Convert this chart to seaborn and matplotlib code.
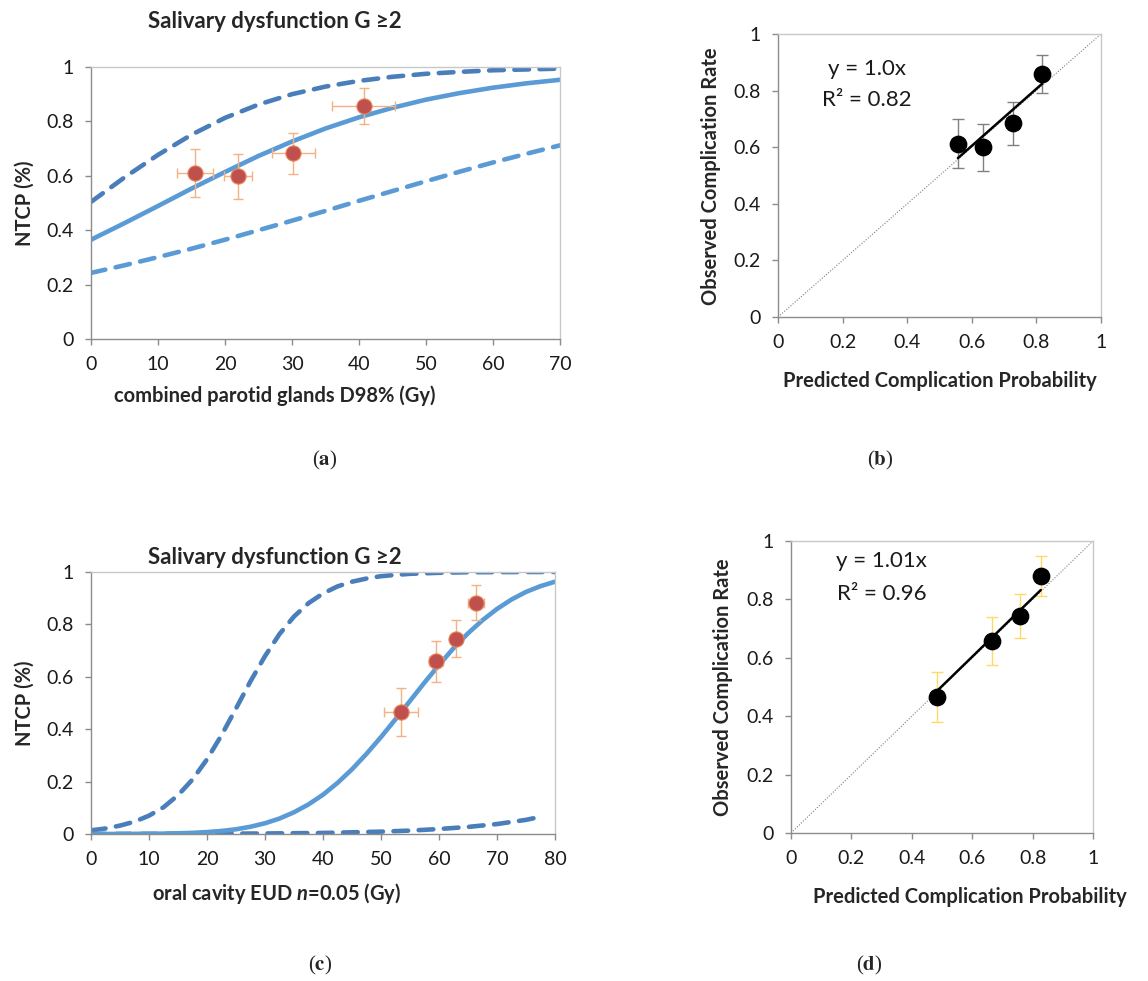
import numpy as np
import pandas as pd
import matplotlib
matplotlib.use("Agg")
import matplotlib.pyplot as plt
import seaborn as sns
from matplotlib.ticker import FuncFormatter

# ---- panel (a): NTCP vs combined parotid glands D98% ----
dose_a = [0, 5, 10, 15, 20, 25, 30, 35, 40, 45, 50, 55, 60, 65, 70]
ntcp_a = [0.365, 0.426, 0.489, 0.553, 0.614, 0.673, 0.726, 0.774, 0.815, 0.850, 0.880, 0.904, 0.924, 0.940, 0.953]
upper_a = [0.504, 0.594, 0.677, 0.751, 0.813, 0.862, 0.900, 0.928, 0.949, 0.964, 0.975, 0.982, 0.988, 0.991, 0.994]
lower_a = [0.243, 0.271, 0.301, 0.332, 0.365, 0.400, 0.435, 0.471, 0.508, 0.544, 0.580, 0.615, 0.649, 0.681, 0.712]
obs_dose_a = [15.5, 21.9, 30.2, 40.7]
obs_rate_a = [0.610, 0.598, 0.683, 0.855]
obs_xerr_a = [2.7, 2.1, 3.2, 4.7]
obs_yerr_a = [0.087, 0.082, 0.075, 0.066]

# ---- panel (b): calibration for (a) ----
pred_b = [0.557, 0.635, 0.727, 0.818]
obs_b = [0.613, 0.600, 0.684, 0.860]
err_b = [0.087, 0.083, 0.076, 0.067]
slope_b = 1.008

# ---- panel (c): NTCP vs oral cavity EUD ----
dose_c = [0, 2.5, 5, 7.5, 10, 12.5, 15, 17.5, 20, 22.5, 25, 27.5, 30, 32.5, 35, 37.5, 40,
          42.5, 45, 47.5, 50, 52.5, 55, 57.5, 60, 62.5, 65, 67.5, 70, 72.5, 75, 77.5, 80]
ntcp_c = [0.000, 0.0001, 0.0002, 0.0005, 0.0008, 0.0015, 0.0026, 0.0044, 0.0073, 0.0116, 0.018,
          0.0277, 0.041, 0.059, 0.083, 0.113, 0.150, 0.195, 0.247, 0.306, 0.370, 0.438, 0.508,
          0.578, 0.645, 0.709, 0.766, 0.816, 0.859, 0.895, 0.924, 0.946, 0.963]
dose_up_c = [0, 2.5, 5, 7.5, 10, 12.5, 15, 17.5, 20, 22.5, 25, 27.5, 30, 32.5, 35, 37.5, 40,
             42.5, 45, 47.5, 50, 52.5, 55, 57.5, 60, 65, 70, 75, 80]
upper_c = [0.014, 0.021, 0.032, 0.047, 0.070, 0.102, 0.148, 0.208, 0.285, 0.377, 0.479, 0.583, 0.679,
           0.763, 0.830, 0.881, 0.918, 0.945, 0.963, 0.975, 0.984, 0.989, 0.993, 0.995, 0.997,
           0.999, 0.9995, 1.0, 1.0]
dose_lo_c = [0, 10, 20, 30, 40, 50, 55, 60, 65, 70, 75, 78]
lower_c = [0.0002, 0.0005, 0.001, 0.002, 0.004, 0.009, 0.013, 0.019, 0.027, 0.038, 0.054, 0.068]
obs_dose_c = [53.4, 59.5, 63.0, 66.4]
obs_rate_c = [0.466, 0.659, 0.745, 0.883]
obs_xerr_c = [2.9, 1.15, 0.9, 1.4]
obs_yerr_c = [0.091, 0.077, 0.070, 0.067]

# ---- panel (d): calibration for (c) ----
pred_d = [0.482, 0.666, 0.757, 0.827]
obs_d = [0.466, 0.658, 0.743, 0.880]
err_d = [0.087, 0.083, 0.076, 0.067]
slope_d = 1.006

TITLE = "Salivary dysfunction G \u22652"

sns.set_theme(style="white")
plt.rcParams["font.family"] = ["Lato", "DejaVu Sans"]
plt.rcParams["mathtext.fontset"] = "custom"
plt.rcParams["mathtext.it"] = "Lato:italic:bold"
plt.rcParams["mathtext.rm"] = "Lato"

W, H = 1148, 981
fig = plt.figure(figsize=(W / 100, H / 100), dpi=100)

LBL = 14.5
TICK = 14


def px_axes(l, t, r, b):
    return fig.add_axes([l / W, 1 - b / H, (r - l) / W, (b - t) / H])


def px_text(x, y, s, **kw):
    return fig.text(x / W, 1 - y / H, s, **kw)


def style_axes(ax):
    for side in ["left", "bottom"]:
        ax.spines[side].set_color("#8c8c8c")
        ax.spines[side].set_linewidth(1.0)
    for side in ["top", "right"]:
        ax.spines[side].set_visible(True)
        ax.spines[side].set_color("#c8c8c8")
        ax.spines[side].set_linewidth(1.0)
    ax.tick_params(axis="both", which="both", direction="out", length=4.5, width=1,
                   color="#8c8c8c", labelsize=TICK, labelcolor="#1a1a1a", pad=8,
                   left=True, bottom=True)
    fmt = FuncFormatter(lambda v, p: f"{v:g}")
    ax.xaxis.set_major_formatter(fmt)
    ax.yaxis.set_major_formatter(fmt)
    ax.grid(False)
    ax.set_xlabel("")
    ax.set_ylabel("")


DASH = (0, (3.2, 2.3))
BLUE = "#5b9bd5"
DBLUE = "#4a7ebb"
RED = "#c0504d"
ORANGE = "#f4b183"


def draw_ntcp(ax, curves, obs_x, obs_y, xerr, yerr):
    for x, y, col, ls in curves:
        df = pd.DataFrame({"x": x, "y": y})
        sns.lineplot(data=df, x="x", y="y", ax=ax, color=col, linewidth=3.3,
                     linestyle=ls, dash_capstyle="round", solid_capstyle="round",
                     estimator=None, sort=False, legend=False)
    ax.errorbar(obs_x, obs_y, xerr=xerr, yerr=yerr, fmt="none", ecolor=ORANGE,
                elinewidth=1.0, capsize=3.5, capthick=1.0, zorder=4)
    pts = pd.DataFrame({"x": obs_x, "y": obs_y})
    sns.scatterplot(data=pts, x="x", y="y", ax=ax, color=RED, s=120,
                    edgecolor="#e9875a", linewidth=0.8, zorder=5, legend=False)


def draw_calib(ax, px, py, err, slope, ecol, txt1, txt2, tx, ty1, ty2):
    diag = pd.DataFrame({"x": [0, 1], "y": [0, 1]})
    sns.lineplot(data=diag, x="x", y="y", ax=ax, color="#7f7f7f", linewidth=0.8,
                 linestyle=(0, (1, 1.5)), estimator=None, legend=False)
    ax.errorbar(px, py, yerr=err, fmt="none", ecolor=ecol, elinewidth=1.0,
                capsize=4.5, capthick=1.0, zorder=3)
    fx = [min(px), max(px)]
    fit = pd.DataFrame({"x": fx, "y": [slope * v for v in fx]})
    sns.lineplot(data=fit, x="x", y="y", ax=ax, color="black", linewidth=1.8,
                 estimator=None, legend=False, zorder=4)
    pts = pd.DataFrame({"x": px, "y": py})
    sns.scatterplot(data=pts, x="x", y="y", ax=ax, color="black", s=140,
                    edgecolor="black", zorder=5, legend=False)
    ax.text(tx, ty1, txt1, fontsize=16, ha="center", va="center", color="#1a1a1a")
    ax.text(tx, ty2, txt2, fontsize=16, ha="center", va="center", color="#1a1a1a")
    ax.set_xlim(0, 1)
    ax.set_ylim(0, 1)
    ax.set_xticks([0, 0.2, 0.4, 0.6, 0.8, 1])
    ax.set_yticks([0, 0.2, 0.4, 0.6, 0.8, 1])


def bold_label(x, y, s, rot=0):
    px_text(x, y, s, fontsize=LBL, fontweight="bold", ha="center", va="center", rotation=rot)


# (a)
ax_a = px_axes(91, 67, 560, 339)
draw_ntcp(ax_a,
          [(dose_a, upper_a, DBLUE, DASH), (dose_a, lower_a, BLUE, DASH), (dose_a, ntcp_a, BLUE, "-")],
          obs_dose_a, obs_rate_a, obs_xerr_a, obs_yerr_a)
ax_a.set_xlim(0, 70)
ax_a.set_ylim(0, 1)
ax_a.set_xticks(range(0, 71, 10))
ax_a.set_yticks([0, 0.2, 0.4, 0.6, 0.8, 1])
style_axes(ax_a)
bold_label(25, 203, "NTCP (%)", 90)
bold_label(275, 396, "combined parotid glands D98% (Gy)")

# (b)
ax_b = px_axes(778, 34, 1101, 317)
draw_calib(ax_b, pred_b, obs_b, err_b, slope_b, "#808080",
           "y = 1.0x", "R\u00b2 = 0.82", 0.276, 0.876, 0.766)
style_axes(ax_b)
bold_label(711, 176, "Observed Complication Rate", 90)
bold_label(940, 381, "Predicted Complication Probability")

# (c)
ax_c = px_axes(91, 572, 555, 834)
draw_ntcp(ax_c,
          [(dose_up_c, upper_c, DBLUE, DASH), (dose_lo_c, lower_c, DBLUE, DASH), (dose_c, ntcp_c, BLUE, "-")],
          obs_dose_c, obs_rate_c, obs_xerr_c, obs_yerr_c)
ax_c.set_xlim(0, 80)
ax_c.set_ylim(0, 1)
ax_c.set_xticks(range(0, 81, 10))
ax_c.set_yticks([0, 0.2, 0.4, 0.6, 0.8, 1])
style_axes(ax_c)
bold_label(25, 703, "NTCP (%)", 90)
bold_label(277, 893, "oral cavity EUD $n$=0.05 (Gy)")

# (d)
ax_d = px_axes(791, 541, 1093, 833)
draw_calib(ax_d, pred_d, obs_d, err_d, slope_d, "#ffd966",
           "y = 1.01x", "R\u00b2 = 0.96", 0.30, 0.93, 0.82)
style_axes(ax_d)
bold_label(723, 687, "Observed Complication Rate", 90)
bold_label(970, 897, "Predicted Complication Probability")

# titles
px_text(275, 22, TITLE, fontsize=16, fontweight="bold", ha="center", va="center")
px_text(275, 557, TITLE, fontsize=16, fontweight="bold", ha="center", va="center")

# panel letters
for lab, x, y in [("a", 325, 460), ("b", 880, 460), ("c", 320, 965), ("d", 869, 965)]:
    px_text(x, y, "(" + r"$\mathbf{" + lab + "}$" + ")", fontsize=15, ha="center", va="center",
            family=["Liberation Serif"], math_fontfamily="stix")

fig.savefig("out.png", dpi=100)
